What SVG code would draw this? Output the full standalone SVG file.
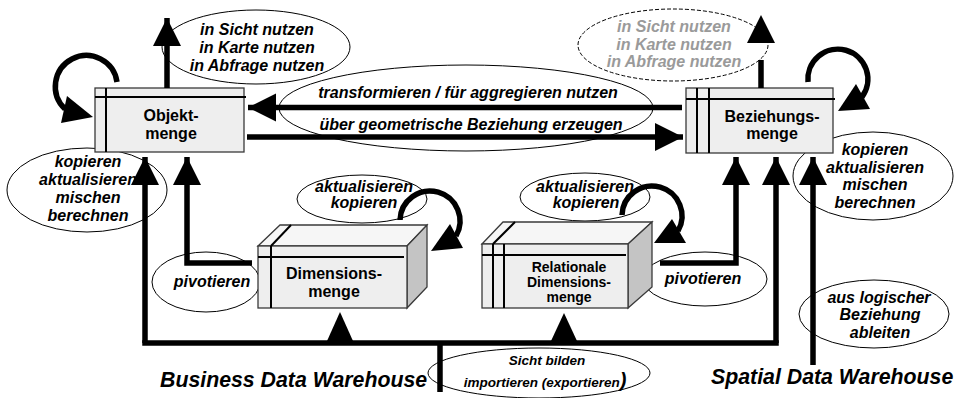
<svg xmlns="http://www.w3.org/2000/svg" width="956" height="398" viewBox="0 0 956 398">
<style>
text{font-family:"Liberation Sans",Arial,Helvetica,sans-serif;font-weight:bold;text-anchor:middle;fill:#000}
.it{font-style:italic;font-size:16px}
.bx{font-size:16px}
.sm{font-size:13.5px}
.rl{font-size:14px}
.big{font-style:italic;font-size:21.3px;text-anchor:start}
.gray{fill:#9a9a9a}
.ell{fill:none;stroke:#000;stroke-width:1}
.dash{fill:#fff;stroke:#000;stroke-width:1;stroke-dasharray:4 2}
.front{fill:#eeeeee;stroke:#3a3a3a;stroke-width:1.3}
.top{fill:#f6f6f6;stroke:#3a3a3a;stroke-width:1.3}
.side{fill:#c4c4c4;stroke:#3a3a3a;stroke-width:1.3}
.in{stroke:#000;stroke-width:2;fill:none}
.c{fill:none;stroke:#000;stroke-width:5.5;stroke-linejoin:miter}
.h{fill:#000;stroke:none}
</style>
<defs>
<marker id="ah" markerUnits="userSpaceOnUse" markerWidth="30" markerHeight="30" refX="28" refY="14" orient="auto">
<path d="M0,0 L28,14 L0,28 z" fill="#000"/>
</marker>
</defs>

<g id="labels">
<g id="lbl-nutzen-links">
<ellipse class="ell" cx="256" cy="47" rx="94" ry="37"/>
<text class="it" x="257" y="35">in Sicht nutzen</text>
<text class="it" x="257" y="53">in Karte nutzen</text>
<text class="it" x="257" y="71">in Abfrage nutzen</text>
</g>
<g id="lbl-nutzen-rechts">
<ellipse class="dash" cx="673" cy="45" rx="95" ry="36"/>
<text class="it gray" x="674" y="32">in Sicht nutzen</text>
<text class="it gray" x="674" y="50">in Karte nutzen</text>
<text class="it gray" x="674" y="67">in Abfrage nutzen</text>
</g>
<g id="lbl-transform">
<ellipse class="ell" cx="466" cy="108" rx="187" ry="43"/>
<text class="it" x="468" y="98">transformieren / für aggregieren nutzen</text>
<text class="it" x="471" y="130">über geometrische Beziehung erzeugen</text>
</g>
<g id="lbl-kopieren-links">
<ellipse class="ell" cx="87" cy="190" rx="80" ry="42"/>
<text class="it" x="88" y="167">kopieren</text>
<text class="it" x="88" y="185">aktualisieren</text>
<text class="it" x="88" y="203">mischen</text>
<text class="it" x="88" y="221">berechnen</text>
</g>
<g id="lbl-kopieren-rechts">
<ellipse class="ell" cx="873" cy="176" rx="80" ry="44"/>
<text class="it" x="875" y="155">kopieren</text>
<text class="it" x="875" y="173">aktualisieren</text>
<text class="it" x="875" y="190">mischen</text>
<text class="it" x="875" y="208">berechnen</text>
</g>
<g id="lbl-akt-dim">
<ellipse class="ell" cx="362" cy="199" rx="65" ry="24"/>
<text class="it" x="364" y="192">aktualisieren</text>
<text class="it" x="364" y="208">kopieren</text>
</g>
<g id="lbl-akt-rel">
<ellipse class="ell" cx="585" cy="197" rx="65" ry="24"/>
<text class="it" x="585" y="192">aktualisieren</text>
<text class="it" x="586" y="208">kopieren</text>
</g>
<g id="lbl-pivot-links">
<ellipse class="ell" cx="206" cy="282" rx="54" ry="30"/>
<text class="it" x="212" y="287">pivotieren</text>
</g>
<g id="lbl-pivot-rechts">
<ellipse class="ell" cx="705" cy="279" rx="62" ry="27"/>
<text class="it" x="703" y="284">pivotieren</text>
</g>
<g id="lbl-logisch">
<ellipse class="ell" cx="874" cy="314" rx="75" ry="34"/>
<text class="it" x="879" y="303">aus logischer</text>
<text class="it" x="880" y="320">Beziehung</text>
<text class="it" x="880" y="338">ableiten</text>
</g>
<g id="lbl-sicht">
<ellipse class="ell" cx="539" cy="373" rx="111" ry="25"/>
<text class="it sm" x="547" y="365">Sicht bilden</text>
<text class="it sm" x="545" y="387">importieren (exportieren<tspan font-size="20px">)</tspan></text>
</g>
</g>

<g id="Objektmenge">
<rect class="front" x="95" y="88" width="149" height="64"/>
<line class="in" x1="95" y1="97" x2="246" y2="97"/>
<line class="in" x1="106" y1="88" x2="106" y2="152"/>
<text class="bx" x="171" y="121">Objekt-</text>
<text class="bx" x="171" y="139">menge</text>
</g>

<g id="Beziehungsmenge">
<rect class="front" x="686" y="88" width="147" height="65"/>
<line class="in" x1="686" y1="99" x2="835" y2="99"/>
<line class="in" x1="697" y1="88" x2="697" y2="153"/>
<line class="in" x1="709" y1="88" x2="709" y2="153"/>
<text class="bx" x="772" y="122">Beziehungs-</text>
<text class="bx" x="772" y="139">menge</text>
</g>

<g id="Dimensionsmenge">
<polygon class="top" points="258,246 280,225 427,225 407,246"/>
<polygon class="side" points="407,246 427,225 427,287 407,308"/>
<rect class="front" x="258" y="246" width="149" height="62"/>
<line class="in" x1="271" y1="246" x2="291" y2="225"/>
<line class="in" x1="271" y1="246" x2="271" y2="308"/>
<line class="in" x1="258" y1="257" x2="404" y2="257"/>
<text class="bx" x="334" y="279">Dimensions-</text>
<text class="bx" x="334" y="297">menge</text>
</g>

<g id="RelationaleDimensionsmenge">
<polygon class="top" points="482,244 503,222 652,222 628,244"/>
<polygon class="side" points="628,244 652,222 652,287 628,308"/>
<rect class="front" x="482" y="244" width="146" height="64"/>
<line class="in" x1="493" y1="244" x2="515" y2="222"/>
<line class="in" x1="493" y1="244" x2="493" y2="308"/>
<line class="in" x1="504" y1="244" x2="504" y2="308"/>
<line class="in" x1="482" y1="255" x2="626" y2="255"/>
<text class="rl" x="569" y="272">Relationale</text>
<text class="rl" x="569" y="287">Dimensions-</text>
<text class="rl" x="569" y="302">menge</text>
</g>

<g id="connectors">
<path class="c" d="M167,88 V18" marker-end="url(#ah)"/>
<path class="c" d="M761,88 V60"/>
<polygon class="h" points="761,15 775,43 747,43"/>
<path class="c" d="M682,107.5 H248" marker-end="url(#ah)"/>
<path class="c" d="M247,137 H683" marker-end="url(#ah)"/>
<path class="c" d="M117,82 A31,31 0 1 0 65,109"/>
<polygon class="h" points="67,96 61,123 93,117"/>
<path class="c" d="M808,82 A30,30 0 1 1 862,97"/>
<polygon class="h" points="856,84 870,109 838,111"/>
<path class="c" d="M400,220 A30,30 0 1 1 456,236"/>
<polygon class="h" points="450,224 463,248 431,251"/>
<path class="c" d="M622,215 A30,30 0 1 1 678,231"/>
<polygon class="h" points="672,219 686,243 654,243"/>
<path class="c" d="M145,343 V157" marker-end="url(#ah)"/>
<path class="c" d="M142.25,343 H778.75"/>
<path class="c" d="M776,343 V157" marker-end="url(#ah)"/>
<path class="c" d="M440,343 V392"/>
<polygon class="h" points="340,312 353,341 327,341"/>
<polygon class="h" points="564,313 577,341 551,341"/>
<path class="c" d="M252,263 H187 V157" marker-end="url(#ah)"/>
<path class="c" d="M660,263 H736 V157" marker-end="url(#ah)"/>
<path class="c" d="M813,365 V157" marker-end="url(#ah)"/>
</g>

<g id="titles">
<text class="big" x="160" y="387">Business Data Warehouse</text>
<text class="big" x="711" y="384">Spatial Data Warehouse</text>
</g>
</svg>
